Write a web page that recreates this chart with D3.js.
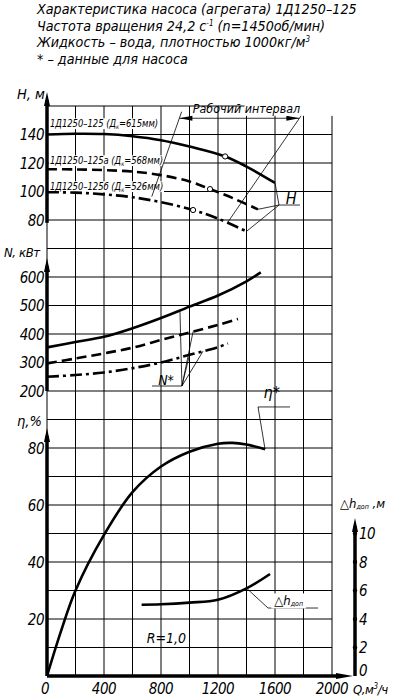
<!DOCTYPE html>
<html>
<head>
<meta charset="utf-8">
<script src="https://cdn.jsdelivr.net/npm/d3@7"></script>
<style>
  body { margin: 0; background: #fff; }
  svg text { font-family: "DejaVu Sans Condensed", "Liberation Sans Narrow", sans-serif; font-style: italic; fill: #000; }
</style>
</head>
<body>
<svg id="chart" width="397" height="700"></svg>
<script>
// flow, m3/h
const qTicks = [0, 400, 800, 1200, 1600, 2000];
const hTicks = [80, 100, 120, 140];
const nTicks = [200, 300, 400, 500, 600];
const etaTicks = [20, 40, 60, 80];
const dhTicks = [0, 2, 4, 6, 8, 10];

// head curves H, m
const qH1 = [0, 200, 400, 600, 800, 1000, 1250, 1400, 1600];
const h1 = [140, 140.5, 140.3, 138.8, 136, 131.5, 124.6, 117.5, 106];
const qH2 = [0, 200, 400, 600, 800, 1000, 1144, 1300, 1480];
const h2 = [115.6, 115.5, 115, 114, 111.5, 107, 101.7, 95.5, 87.5];
const qH3 = [0, 200, 400, 600, 800, 1025, 1200, 1400];
const h3 = [99.5, 99.2, 98, 96, 92.5, 87, 81, 72];
// marked points on head curves
const markQ = [1250, 1144, 1025];
const markH = [124.6, 101.7, 87];

// power curves N, kW
const qN1 = [0, 200, 400, 600, 800, 1000, 1200, 1400, 1500];
const n1 = [353, 372, 390, 420, 456, 496, 535, 585, 616];
const qN2 = [0, 200, 400, 600, 800, 1000, 1200, 1340];
const n2 = [297, 314, 332, 352, 379, 405, 432, 453];
const qN3 = [0, 200, 400, 600, 800, 1000, 1200, 1270];
const n3 = [250, 256, 265, 280, 300, 327, 354, 367];

// efficiency, %
const qEta = [0, 100, 200, 400, 600, 800, 1000, 1200, 1300, 1400, 1530];
const eta = [0, 16, 30, 49.5, 64.5, 73.5, 78.7, 81.5, 81.8, 81.2, 79.6];

// NPSH required, m
const qDh = [664, 800, 1000, 1200, 1400, 1565];
const dh = [5.0, 5.03, 5.15, 5.35, 6.15, 7.16];

const titleLines = [
  "Характеристика насоса (агрегата) 1Д1250–125",
  "Частота вращения 24,2 с",
  "Жидкость – вода, плотностью 1000кг/м",
  "* – данные для насоса"
];
const curveNames = ["1Д1250–125 (Д", "1Д1250–125а (Д", "1Д1250–125б (Д"];
const curveDiam = ["=615мм)", "=568мм)", "=526мм)"];

const svg = d3.select("#chart");

const x = d3.scaleLinear().domain([0, 2000]).range([47, 332]);
const row = d3.scaleLinear().domain([0, 20]).range([676, 106]);
const yH = d3.scaleLinear().domain([80, 160]).range([row(16), row(20)]);
const yN = d3.scaleLinear().domain([200, 600]).range([row(10), row(14)]);
const yE = d3.scaleLinear().domain([0, 80]).range([row(0), row(8)]);
const yD = d3.scaleLinear().domain([0, 10]).range([row(0), row(5)]);

function interp(qs, vs, q) {
  return d3.scaleLinear().domain(qs).range(vs)(q);
}

// grid
const grid = svg.append("g").attr("stroke", "#000").attr("stroke-width", 1);
grid.selectAll("line.v").data(d3.range(0, 2001, 200)).enter().append("line")
  .attr("x1", d => x(d)).attr("x2", d => x(d))
  .attr("y1", row(20)).attr("y2", row(0));
grid.selectAll("line.h").data(d3.range(0, 21)).enter().append("line")
  .attr("x1", x(0)).attr("x2", x(2000))
  .attr("y1", d => row(d)).attr("y2", d => row(d));

// title
const title = svg.append("g").style("font-size", "14.2px");
titleLines.forEach((t, i) => {
  const tx = title.append("text").attr("x", 37).attr("y", 14 + i * 16.5).text(t);
  if (i === 1) {
    tx.append("tspan").attr("dy", -5).style("font-size", "8px").text("-1");
    tx.append("tspan").attr("dy", 5).text(" (n=1450об/мин)");
  }
  if (i === 2) {
    tx.append("tspan").attr("dy", -5).style("font-size", "8px").text("3");
  }
});

// curve labels with white background (condensed horizontally)
const labelY = [123, 160, 186];
curveNames.forEach((t, i) => {
  const g = svg.append("g").attr("transform", `translate(50,${labelY[i] + 4}) scale(0.85,1)`);
  const tx = g.append("text").attr("x", 0).attr("y", 0)
    .style("font-size", "11px").text(t);
  tx.append("tspan").attr("dy", 2).style("font-size", "6.5px").text("к");
  tx.append("tspan").attr("dy", -2).text(curveDiam[i]);
  const bb = tx.node().getBBox();
  g.insert("rect", "text").attr("x", bb.x - 1).attr("y", bb.y + 1).attr("width", bb.width + 2).attr("height", bb.height - 2).attr("fill", "#fff");
});

const line = (sc) => d3.line().x(d => x(d[0])).y(d => sc(d[1])).curve(d3.curveCatmullRom.alpha(0.5));
const curves = svg.append("g").attr("fill", "none").attr("stroke", "#000").attr("stroke-width", 2.6);

curves.append("path").attr("d", line(yH)(d3.zip(qH1, h1)));
curves.append("path").attr("d", line(yH)(d3.zip(qH2, h2))).attr("stroke-dasharray", "10,5");
curves.append("path").attr("d", line(yH)(d3.zip(qH3, h3))).attr("stroke-dasharray", "12,4,3,4");
curves.append("path").attr("d", line(yN)(d3.zip(qN1, n1)));
curves.append("path").attr("d", line(yN)(d3.zip(qN2, n2))).attr("stroke-dasharray", "10,5");
curves.append("path").attr("d", line(yN)(d3.zip(qN3, n3))).attr("stroke-dasharray", "12,4,3,4");
curves.append("path").attr("d", line(yE)(d3.zip(qEta, eta)));
curves.append("path").attr("d", line(yD)(d3.zip(qDh, dh)));

svg.append("g").selectAll("circle").data(d3.zip(markQ, markH)).enter().append("circle")
  .attr("cx", d => x(d[0])).attr("cy", d => yH(d[1])).attr("r", 2.6)
  .attr("fill", "#fff").attr("stroke", "#000").attr("stroke-width", 1);

// annotations
const ann = svg.append("g").attr("stroke", "#000").attr("stroke-width", 0.8).attr("fill", "none");
function seg(x1, y1, x2, y2) {
  ann.append("line").attr("x1", x1).attr("y1", y1).attr("x2", x2).attr("y2", y2);
}
function label(txt, tx, ty, size, bg) {
  const t = svg.append("text").attr("x", tx).attr("y", ty).style("font-size", size + "px").text(txt);
  if (bg) {
    const bb = t.node().getBBox();
    svg.insert("rect", () => t.node()).attr("x", bb.x - 2).attr("y", bb.y + 1).attr("width", bb.width + 4).attr("height", bb.height - 1).attr("fill", "#fff");
  }
  return t;
}

// working interval
seg(x(945), yH(156), x(735), yH(96.4));
seg(x(1796), yH(155), x(1270), yH(78.6));
ann.append("line").attr("x1", x(929)).attr("x2", x(1771)).attr("y1", yH(151.4)).attr("y2", yH(151.4));
const arrow = (tipX, dir, y) => svg.append("path")
  .attr("d", `M${tipX},${y} L${tipX + dir * 13},${y - 2.6} L${tipX + dir * 13},${y + 2.6} Z`).attr("fill", "#000");
arrow(x(929), 1, yH(151.4));
arrow(x(1771), -1, yH(151.4));
label("Рабочий интервал", x(1400), yH(155.2), 12.4, true).attr("text-anchor", "middle");

// H leader
seg(x(1628), yH(90.5), x(1775), yH(90.5));
seg(x(1628), yH(90.5), x(1600), yH(106));
seg(x(1628), yH(90.5), x(1480), yH(87.5));
seg(x(1628), yH(90.5), x(1400), yH(72));
label("H", x(1675), yH(91.5), 16, false);

// N* leader
seg(x(737), yN(217.5), x(947), yN(217.5));
seg(x(947), yN(217.5), x(933), yN(interp(qN1, n1, 933)));
seg(x(947), yN(217.5), x(1025), yN(interp(qN2, n2, 1025)));
seg(x(947), yN(217.5), x(1095), yN(interp(qN3, n3, 1095)));
seg(x(947), yN(217.5), x(1000), yN(interp(qN3, n3, 1000)));
label("N*", x(780), yN(222), 14, false);

// eta* leader
seg(x(1481), yE(94.4), x(1705), yE(94.4));
seg(x(1481), yE(94.4), x(1530), yE(79.6));
label("η*", x(1520), yE(97.5), 16, false);

// dh leader
const dhLab = label("", x(1595), yD(4.95), 12, false);
dhLab.append("tspan").text("△h").style("font-size", "13px");
dhLab.append("tspan").attr("dy", 1).style("font-size", "7px").text("доп");
{
  const bb = dhLab.node().getBBox();
  svg.insert("rect", () => dhLab.node()).attr("x", bb.x - 3).attr("y", bb.y).attr("width", bb.width + 6).attr("height", bb.height).attr("fill", "#fff");
}
seg(x(1551), yD(4.77), x(1902), yD(4.77));
seg(x(1551), yD(4.77), x(1401), yD(interp(qDh, dh, 1401)));

label("R=1,0", x(700), yD(2.35), 14, false);

// thick axes
const ax = svg.append("g").attr("stroke", "#000").attr("stroke-width", 3.5);
ax.append("line").attr("x1", x(0)).attr("x2", x(0)).attr("y1", yH(78)).attr("y2", 100);
ax.append("line").attr("x1", x(0)).attr("x2", x(0)).attr("y1", yN(200)).attr("y2", 266);
ax.append("line").attr("x1", x(0)).attr("x2", x(0)).attr("y1", yE(0)).attr("y2", 436);
ax.append("line").attr("x1", x(0)).attr("x2", 342).attr("y1", row(0)).attr("y2", row(0));
ax.append("line").attr("x1", 355).attr("x2", 355).attr("y1", yD(0)).attr("y2", 526);
const upArrow = (cx, tip) => svg.append("path")
  .attr("d", `M${cx},${tip} L${cx - 3},${tip + 14} L${cx + 3},${tip + 14} Z`).attr("fill", "#000");
upArrow(x(0), 92);
upArrow(x(0), 258);
upArrow(x(0), 428);
upArrow(355, 518);
svg.append("path").attr("d", `M353,${row(0)} L336,${row(0) - 3} L336,${row(0) + 3} Z`).attr("fill", "#000");

// tick labels
const tl = svg.append("g").style("font-size", "15px").style("letter-spacing", "-0.5px").attr("text-anchor", "end");
tl.selectAll("text.h").data(hTicks).enter().append("text").attr("x", 44).attr("y", d => yH(d) + 5.5).text(d => d);
tl.selectAll("text.n").data(nTicks).enter().append("text").attr("x", 44).attr("y", d => yN(d) + 5.5).text(d => d);
tl.selectAll("text.e").data(etaTicks).enter().append("text").attr("x", 44).attr("y", d => yE(d) + 5.5).text(d => d);
svg.append("g").style("font-size", "15px").style("letter-spacing", "-0.5px").attr("text-anchor", "middle")
  .selectAll("text").data(qTicks).enter().append("text")
  .attr("x", d => x(d) + (d === 0 ? -2 : 0)).attr("y", 694).text(d => d);
svg.append("g").style("font-size", "15px").style("letter-spacing", "-0.5px")
  .selectAll("text").data(dhTicks).enter().append("text")
  .attr("x", 359).attr("y", d => yD(d) + (d === 0 ? 0 : 5.5)).text(d => d);
svg.append("g").selectAll("circle").data(dhTicks.slice(1)).enter().append("circle")
  .attr("cx", 355).attr("cy", d => yD(d)).attr("r", 2.2).attr("fill", "#000");

// axis titles
label("H, м", 17, 99, 14.5, false);
label("N, кВт", 4, 257, 13, false).style("letter-spacing", "-0.4px");
label("η,%", 17, 426, 14.5, false);
const qLab = label("Q,м", 353, 694, 13, false).style("letter-spacing", "-0.4px");
qLab.append("tspan").attr("dy", -5).style("font-size", "8px").text("3");
qLab.append("tspan").attr("dy", 5).text("/ч");
const dhAx = label("△h", 340, 508, 13, false);
dhAx.append("tspan").attr("dy", 1).style("font-size", "7px").text("доп");
dhAx.append("tspan").attr("dy", -1).text(" ,м");
</script>
</body>
</html>
